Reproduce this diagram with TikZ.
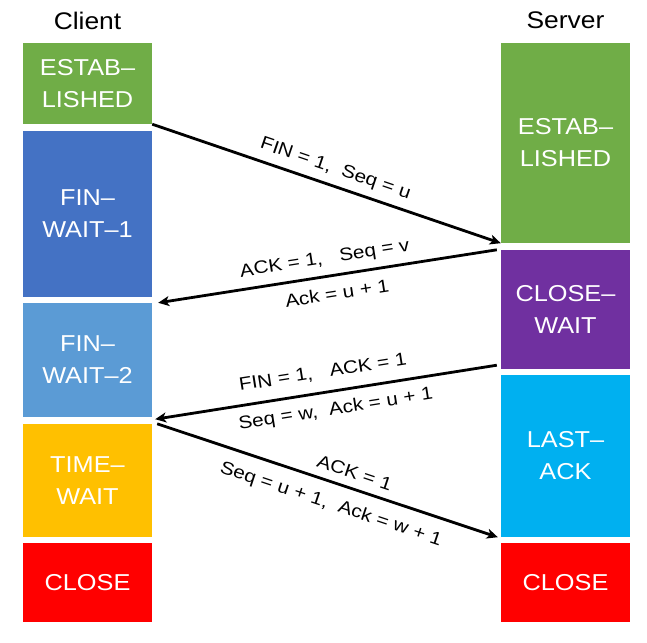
\documentclass[tikz,border=0pt]{standalone}
\usepackage{fontspec}
\setmainfont{Liberation Sans}[FakeStretch=1.1]
\newfontfamily\lblfont{Liberation Sans}[FakeStretch=1.15]
\usetikzlibrary{arrows.meta}
\definecolor{cgreen}{HTML}{70AD47}
\definecolor{cblue}{HTML}{4472C4}
\definecolor{clblue}{HTML}{5B9BD5}
\definecolor{cgold}{HTML}{FFC000}
\definecolor{cred}{HTML}{FF0000}
\definecolor{cpurple}{HTML}{7030A0}
\definecolor{ccyan}{HTML}{00B0F0}
\tikzset{
  state/.style={rectangle, inner sep=0pt, minimum width=129pt, text=white, align=center,
    font=\fontsize{23}{32}\selectfont},
  title/.style={font=\fontsize{24}{28}\selectfont},
  msg/.style={line width=2.8pt, -{Stealth[length=11pt,width=10pt,inset=3pt]}},
  lbl/.style={font=\lblfont\fontsize{18}{20}\selectfont, sloped},
}
\begin{document}
\begin{tikzpicture}[x=1pt,y=-1pt]
\useasboundingbox (0,0) rectangle (647,642);
\node[title] (client) at (87.5,20.5) {Client};
\node[title] (server) at (565.5,20.5) {Server};
% client column
\node[state, fill=cgreen,  minimum height=81pt]  (cEst) at (87.5,83.5)  {ESTAB–\\LISHED};
\node[state, fill=cblue,   minimum height=166pt] (cFW1) at (87.5,214)   {FIN–\\WAIT–1};
\node[state, fill=clblue,  minimum height=114pt] (cFW2) at (87.5,360)   {FIN–\\WAIT–2};
\node[state, fill=cgold,   minimum height=113pt] (cTW)  at (87.5,480.5) {TIME–\\WAIT};
\node[state, fill=cred,    minimum height=79pt]  (cCl)  at (87.5,582.5) {CLOSE};
% server column
\node[state, fill=cgreen,  minimum height=200pt] (sEst) at (565.5,143)   {ESTAB–\\LISHED};
\node[state, fill=cpurple, minimum height=119pt] (sCW)  at (565.5,309.5) {CLOSE–\\WAIT};
\node[state, fill=ccyan,   minimum height=162pt] (sLA)  at (565.5,456)   {LAST–\\ACK};
\node[state, fill=cred,    minimum height=79pt]  (sCl)  at (565.5,582.5) {CLOSE};
% messages
\draw[msg] (cEst.south east) -- (sEst.south west)
  node[lbl, above, pos=0.51, inner sep=7pt] {FIN = 1,\ \ Seq = u};
\draw[msg] ([xshift=-4pt]sCW.north west) -- ([xshift=6pt]cFW2.north east)
  node[lbl, above, pos=0.5, inner sep=7.5pt] {ACK = 1,\ \ \ Seq = v}
  node[lbl, below, pos=0.48, inner sep=10pt] {Ack = u + 1};
\draw[msg] ([xshift=-4pt,yshift=4pt]sCW.south west) -- ([xshift=3pt,yshift=-2pt]cFW2.south east)
  node[lbl, above, pos=0.5, inner sep=11pt] {FIN = 1,\ \ \ ACK = 1}
  node[lbl, below, pos=0.48, inner sep=9pt] {Seq = w,\ \ Ack = u + 1};
\draw[msg] ([xshift=5pt]cTW.north east) -- ([xshift=-3pt]sLA.south west)
  node[lbl, above, pos=0.565, inner sep=8pt] {ACK = 1}
  node[lbl, below, pos=0.53, inner sep=12pt] {Seq = u + 1,\ \ Ack = w + 1};
\end{tikzpicture}
\end{document}
